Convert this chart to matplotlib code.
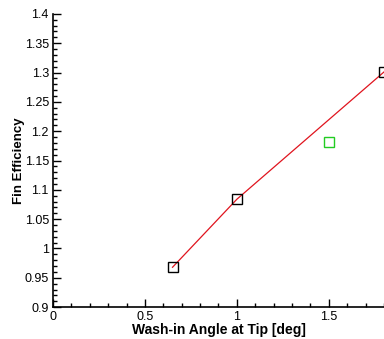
import matplotlib
matplotlib.use("Agg")
import matplotlib.pyplot as plt
from matplotlib.ticker import MultipleLocator

plt.rcParams['font.family'] = ['Liberation Sans', 'DejaVu Sans']

wash_in = [0.65, 1.0, 1.8]
efficiency = [0.968, 1.084, 1.301]
green_x = [1.5]
green_y = [1.182]

x_ticks = [0, 0.5, 1, 1.5]
x_tick_labels = ["0", "0.5", "1", "1.5"]
y_ticks = [0.9, 0.95, 1.0, 1.05, 1.1, 1.15, 1.2, 1.25, 1.3, 1.35, 1.4]
y_tick_labels = ["0.9", "0.95", "1", "1.05", "1.1", "1.15", "1.2", "1.25", "1.3", "1.35", "1.4"]

fig = plt.figure(figsize=(3.84, 3.39), dpi=100)
ax = fig.add_axes([0.138, 0.094, 0.862, 0.865])
ax.plot(wash_in, efficiency, color='#e0141e', lw=0.9, zorder=2)
ax.plot(wash_in, efficiency, ls='none', marker='s', ms=7, mfc='none',
        mec='black', mew=1.0, zorder=3)
ax.plot(green_x, green_y, ls='none', marker='s', ms=7, mfc='none',
        mec='#22cc22', mew=1.0, zorder=3)

ax.set_xlim(0, 1.8)
ax.set_ylim(0.9, 1.4)
ax.set_xticks(x_ticks)
ax.set_xticklabels(x_tick_labels)
ax.set_yticks(y_ticks)
ax.set_yticklabels(y_tick_labels)
ax.xaxis.set_minor_locator(MultipleLocator(0.1))
ax.yaxis.set_minor_locator(MultipleLocator(0.01))
ax.tick_params(which='major', direction='in', length=6, width=1, labelsize=9)
ax.tick_params(axis='y', which='major', pad=3)
ax.tick_params(axis='x', which='major', pad=3)
ax.tick_params(which='minor', direction='in', length=3, width=1)
for s in ['top', 'right']:
    ax.spines[s].set_visible(False)
for s in ['left', 'bottom']:
    ax.spines[s].set_linewidth(1.2)

ax.set_xlabel('Wash-in Angle at Tip [deg]', fontsize=10, fontweight='bold', labelpad=0)
ax.set_ylabel('Fin Efficiency', fontsize=9.5, fontweight='bold')
ax.yaxis.set_label_coords(-0.085, 0.5)

fig.savefig('out.png', dpi=100)
